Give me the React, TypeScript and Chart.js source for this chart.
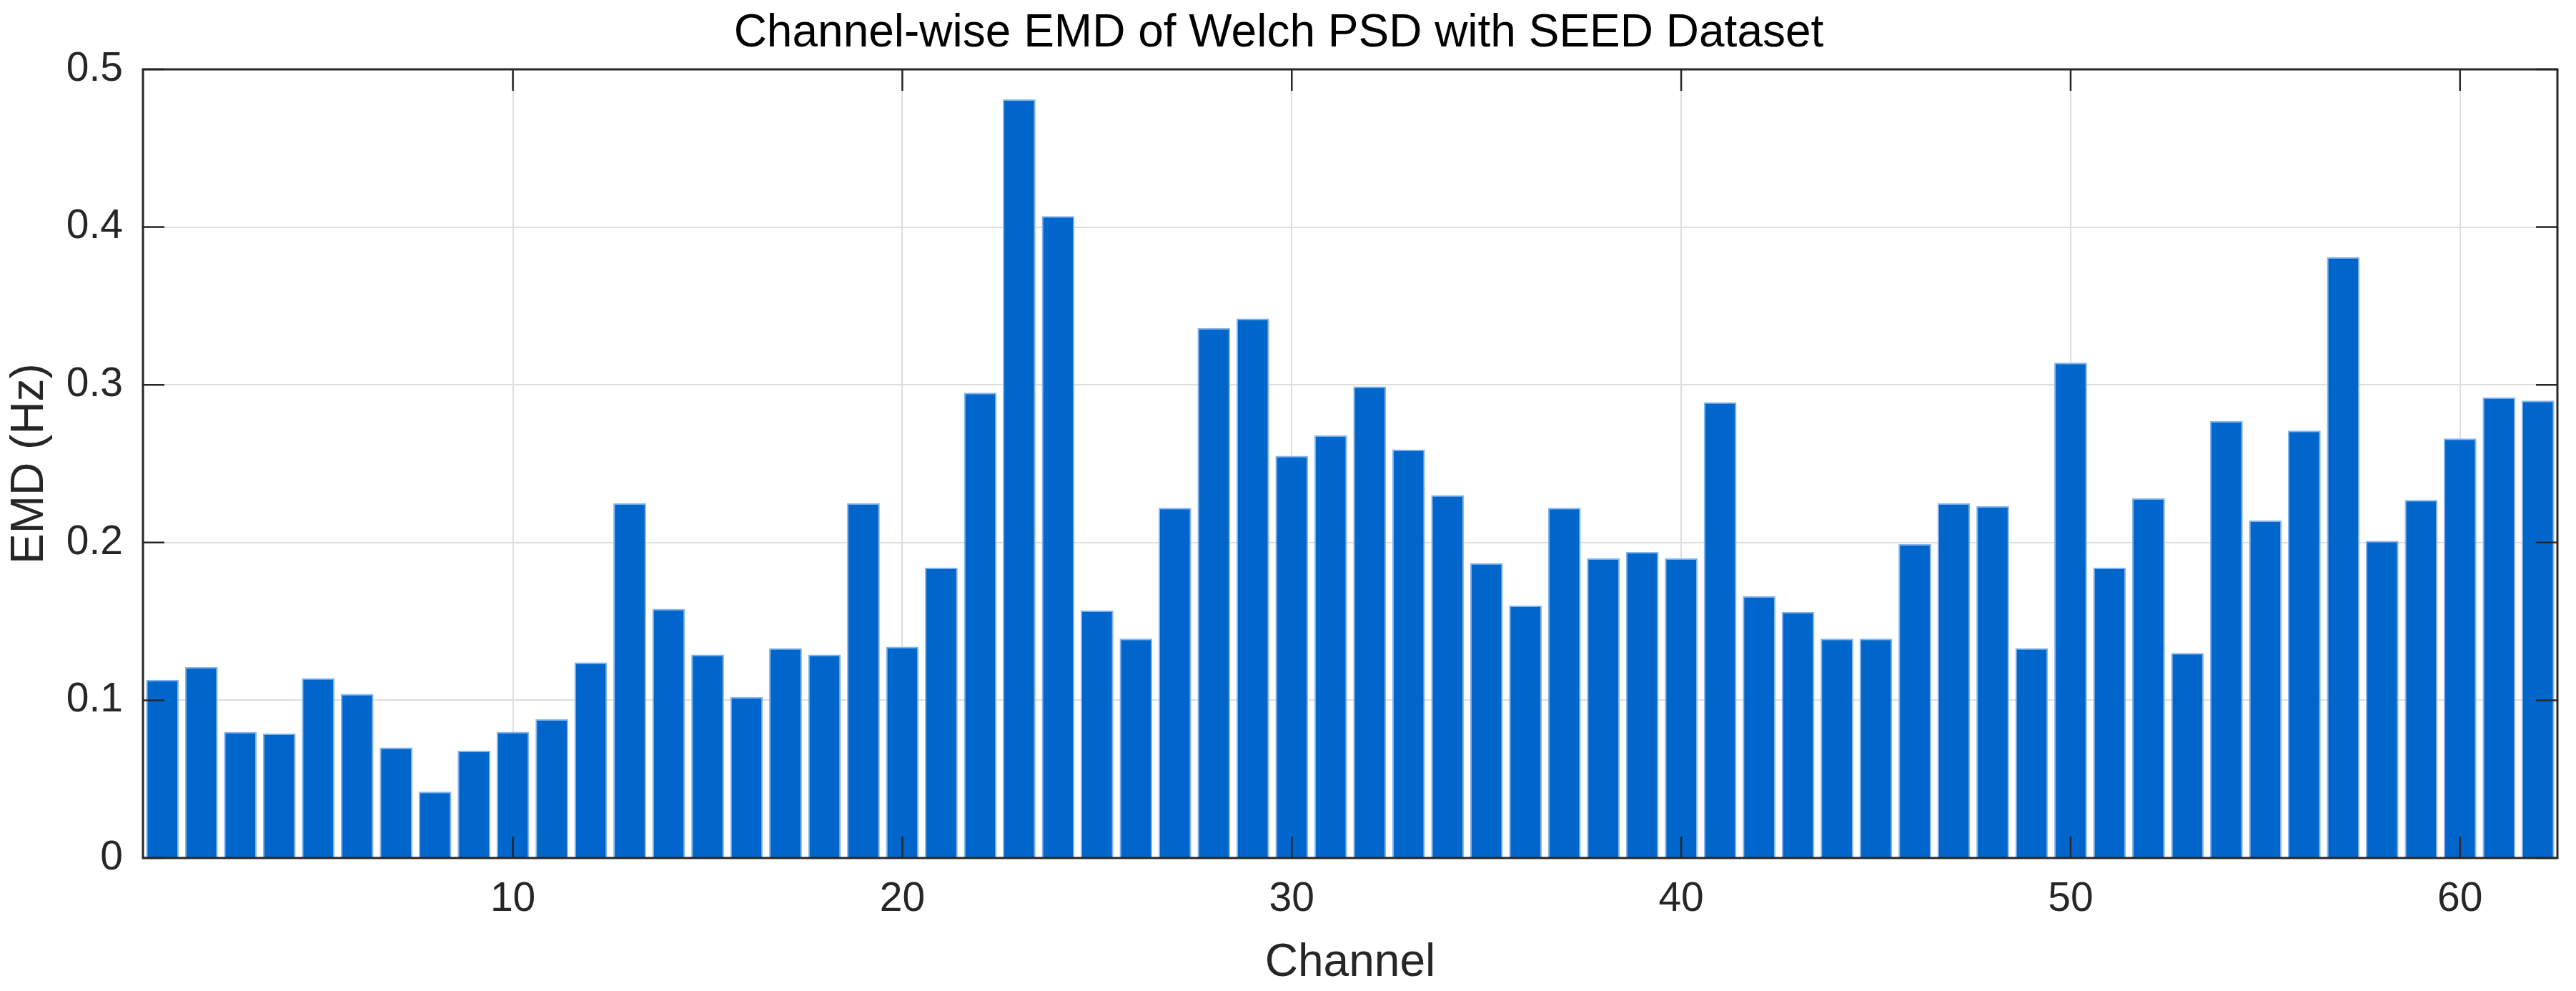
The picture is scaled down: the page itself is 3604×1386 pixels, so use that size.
import { useEffect, useRef } from "react";
import { Chart, registerables } from "chart.js";

Chart.register(...registerables);

// channel index 1..62
const channels = Array.from({ length: 62 }, (_, i) => i + 1);

// EMD (Hz) per channel
const emd = [
  0.113, 0.121, 0.08, 0.079, 0.114, 0.104, 0.07, 0.042, 0.068, 0.08,
  0.088, 0.124, 0.225, 0.158, 0.129, 0.102, 0.133, 0.129, 0.225, 0.134,
  0.184, 0.295, 0.481, 0.407, 0.157, 0.139, 0.222, 0.336, 0.342, 0.255,
  0.268, 0.299, 0.259, 0.23, 0.187, 0.16, 0.222, 0.19, 0.194, 0.19,
  0.289, 0.166, 0.156, 0.139, 0.139, 0.199, 0.225, 0.223, 0.133, 0.314,
  0.184, 0.228, 0.13, 0.277, 0.214, 0.271, 0.381, 0.201, 0.227, 0.266,
  0.292, 0.29,
];

const xTicks = [10, 20, 30, 40, 50, 60];
const yMax = 0.5;
const yStep = 0.1;

const FONT = "'Liberation Sans', Arial, Helvetica, sans-serif";
const AXIS = "#262626";
const GRID = "#dedede";
const TICK_LEN = 30;

// MATLAB-style box with inward ticks on all four sides
const boxPlugin = {
  id: "matlabBox",
  afterDatasetsDraw(chart: any) {
    const { ctx, chartArea } = chart;
    const { left, right, top, bottom } = chartArea;
    const xs = chart.scales.x;
    const ys = chart.scales.y;
    ctx.save();
    ctx.strokeStyle = AXIS;
    ctx.lineWidth = 2.5;
    ctx.beginPath();
    xs.ticks.forEach((t: any, i: number) => {
      if (!t.label) return;
      const px = xs.getPixelForTick(i);
      ctx.moveTo(px, bottom);
      ctx.lineTo(px, bottom - TICK_LEN);
      ctx.moveTo(px, top);
      ctx.lineTo(px, top + TICK_LEN);
    });
    ys.ticks.forEach((t: any) => {
      const py = ys.getPixelForValue(t.value);
      ctx.moveTo(left, py);
      ctx.lineTo(left + TICK_LEN, py);
      ctx.moveTo(right, py);
      ctx.lineTo(right - TICK_LEN, py);
    });
    ctx.stroke();
    ctx.lineWidth = 3;
    ctx.strokeRect(left, top, right - left, bottom - top);
    ctx.restore();
  },
};

export default function App() {
  const ref = useRef<HTMLCanvasElement>(null);

  useEffect(() => {
    document.body.style.margin = "0";
    if (!ref.current) return;
    const chart = new Chart(ref.current, {
      type: "bar",
      data: {
        labels: channels,
        datasets: [
          {
            label: "EMD",
            data: emd,
            backgroundColor: "#0066cc",
            borderColor: "#86b4ec",
            borderWidth: 2,
            borderSkipped: "bottom",
            categoryPercentage: 1,
            barPercentage: 0.84,
          },
        ],
      },
      options: {
        animation: false,
        responsive: false,
        devicePixelRatio: 1,
        layout: { padding: { left: 0, right: 26, top: 0, bottom: 0 } },
        plugins: {
          legend: { display: false },
          tooltip: { enabled: false },
          title: {
            display: true,
            text: "Channel-wise EMD of Welch PSD with SEED Dataset",
            color: "#000",
            font: { family: FONT, size: 64, weight: "normal", lineHeight: 1.2 },
            padding: { top: 8.6, bottom: 11.6 },
          },
        },
        scales: {
          x: {
            type: "category",
            offset: true,
            grid: {
              offset: false,
              drawTicks: false,
              lineWidth: 2,
              color: (c: any) =>
                c.tick && xTicks.includes(Number(c.tick.label)) ? GRID : "rgba(0,0,0,0)",
            },
            border: { display: false },
            ticks: {
              autoSkip: false,
              maxRotation: 0,
              padding: 24,
              color: AXIS,
              font: { family: FONT, size: 57, lineHeight: 1.2 },
              callback: (_v: any, i: number) =>
                xTicks.includes(channels[i]) ? String(channels[i]) : "",
            },
            title: {
              display: true,
              text: "Channel",
              color: AXIS,
              font: { family: FONT, size: 64, lineHeight: 1.2 },
              padding: { top: 11.6, bottom: 0 },
            },
            afterFit: (s: any) => {
              s.height = 186;
            },
          },
          y: {
            min: 0,
            max: yMax,
            grid: { drawTicks: false, lineWidth: 2, color: GRID },
            border: { display: false },
            ticks: {
              stepSize: yStep,
              padding: 28,
              color: AXIS,
              font: { family: FONT, size: 57, lineHeight: 1.2 },
              callback: (v: any) => String(Math.round(Number(v) * 10) / 10),
            },
            title: {
              display: true,
              text: "EMD (Hz)",
              color: AXIS,
              font: { family: FONT, size: 64, lineHeight: 1.2 },
              padding: { top: 4, bottom: 0 },
            },
            afterFit: (s: any) => {
              s.width = 200;
            },
          },
        },
      },
      plugins: [boxPlugin],
    });
    return () => {
      chart.destroy();
    };
  }, []);

  return (
    <div style={{ width: 3604, height: 1386, background: "#fff" }}>
      <canvas ref={ref} width={3604} height={1386} />
    </div>
  );
}
